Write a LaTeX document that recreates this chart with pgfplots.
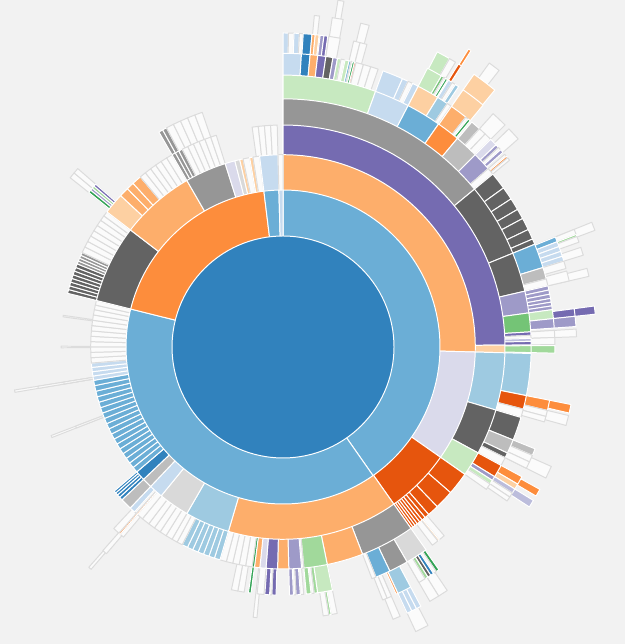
\documentclass[border=0pt]{standalone}
\usepackage{pgfplots}
\usepackage{pgfplotstable}
\pgfplotsset{compat=1.18}

% category20c palette
\definecolor{blueA}{HTML}{3182BD}
\definecolor{blueB}{HTML}{6BAED6}
\definecolor{blueC}{HTML}{9ECAE1}
\definecolor{blueD}{HTML}{C6DBEF}
\definecolor{orA}{HTML}{E6550D}
\definecolor{orB}{HTML}{FD8D3C}
\definecolor{orC}{HTML}{FDAE6B}
\definecolor{orD}{HTML}{FDD0A2}
\definecolor{grA}{HTML}{31A354}
\definecolor{grB}{HTML}{74C476}
\definecolor{grC}{HTML}{A1D99B}
\definecolor{grD}{HTML}{C7E9C0}
\definecolor{puA}{HTML}{756BB1}
\definecolor{puB}{HTML}{9E9AC8}
\definecolor{puC}{HTML}{BCBDDC}
\definecolor{puD}{HTML}{DADAEB}
\definecolor{gyA}{HTML}{636363}
\definecolor{gyB}{HTML}{969696}
\definecolor{gyC}{HTML}{BDBDBD}
\definecolor{gyD}{HTML}{D9D9D9}
\definecolor{wh}{HTML}{FBFBFB}
\definecolor{bg}{HTML}{F2F2F2}

% outline colour for each fill: white, except for the near-white leaves
\colorlet{blueA-e}{white}\colorlet{blueB-e}{white}
\colorlet{blueC-e}{white}\colorlet{blueD-e}{white}
\colorlet{orA-e}{white}\colorlet{orB-e}{white}
\colorlet{orC-e}{white}\colorlet{orD-e}{white}
\colorlet{grA-e}{white}\colorlet{grB-e}{white}
\colorlet{grC-e}{white}\colorlet{grD-e}{white}
\colorlet{puA-e}{white}\colorlet{puB-e}{white}
\colorlet{puC-e}{white}\colorlet{puD-e}{white}
\colorlet{gyA-e}{white}\colorlet{gyB-e}{white}
\colorlet{gyC-e}{white}\colorlet{gyD-e}{white}
\definecolor{wh-e}{HTML}{DCDCDC}

% Partition rings: start/end angle (degrees, clockwise from 12 o'clock) and colour
\pgfplotstableread{
from to col
0 145 blueB
145 284 blueB
284 353 orB
353 358.5 blueB
358.5 360 blueD
}\ringA

\pgfplotstableread{
from to col
0 91.5 orC
91.5 125 puD
125 144.8 orA
144.8 196.5 orC
196.5 210 blueC
210 219.3 gyD
219.3 223.5 blueD
223.5 226.5 gyC
226.5 229.5 blueA
229.5 231.2 blueB
231.2 232.9 blueB
232.9 234.6 blueB
234.6 236.3 blueB
236.3 238.0 blueB
238.0 239.7 blueB
239.7 241.4 blueB
241.4 243.1 blueB
243.1 244.8 blueB
244.8 246.5 blueB
246.5 248.2 blueB
248.2 249.9 blueB
249.9 251.6 blueB
251.6 253.3 blueB
253.3 255.0 blueB
255.0 256.7 blueB
256.7 258.4 blueB
258.4 260.0 blueB
260.0 261.3 blueD
261.3 262.6 blueD
262.6 263.9 blueD
263.9 265.2 blueD
265.2 266.8 wh
266.8 268.4 wh
268.4 270 wh
270 271.6 wh
271.6 273.2 wh
273.2 274.8 wh
274.8 276.4 wh
276.4 278 wh
278 279.6 wh
279.6 281.2 wh
281.2 282.6 wh
282.6 284 wh
284 307.5 gyA
307.5 330 orC
330 342.5 gyB
342.5 345.5 puD
345.5 347 gyD
347 348 orD
348 350 wh
350 351 orD
351 353 wh
353 358.5 blueD
358.5 360 wh
}\ringB

\pgfplotstableread{
from to col
0 89.5 puA
89.5 91.5 orD
91.5 106.5 blueC
106.5 118.5 gyA
118.5 125 grD
125 131 orA
131 136 orA
136 139 orA
139 140.2 orA
140.2 141.2 orA
141.2 142 orA
142 142.8 orA
142.8 143.5 orA
143.5 144.2 orA
144.2 144.8 orA
144.8 159 gyB
159 168.5 orC
168.5 174.6 grC
174.6 175.2 wh
175.2 178.5 puB
178.5 181.4 orC
181.4 184.4 puA
184.4 186 puD
186 187.4 orC
187.4 188 grA
188 189.7 wh
189.7 191.4 wh
191.4 193.1 wh
193.1 194.8 wh
194.8 196.5 wh
196.5 198 blueC
198 199.5 blueC
199.5 201 blueC
201 202.5 blueC
202.5 204 blueC
204 205.5 blueC
205.5 207 blueC
207 208.5 wh
208.5 210 wh
210 211.8 wh
211.8 213.6 wh
213.6 215.4 wh
215.4 217.2 wh
217.2 219.3 wh
219.3 221 wh
221 221.4 orB
221.4 222 wh
222 223.5 blueD
223.5 226.5 gyC
226.5 227.4 blueA
227.4 228.2 blueA
228.2 228.9 blueA
228.9 229.5 blueA
248.6 249.1 wh
260.4 260.9 wh
269.8 270.2 wh
277.8 278.2 wh
284 285 gyA
285 286 gyA
286 287 gyA
287 288 gyA
288 289 gyA
289 290 gyA
290 291 gyA
291 292 gyA
292 292.8 gyB
292.8 293.6 gyB
293.6 294.4 gyB
294.4 295.2 gyB
295.2 296.8 wh
296.8 298.4 wh
298.4 300 wh
300 301.6 wh
301.6 303.2 wh
303.2 304.8 wh
304.8 306.2 wh
306.2 307.5 wh
307.5 313 orD
313 315.5 orC
315.5 317.5 orC
317.5 320 orC
320 321.7 wh
321.7 323.4 wh
323.4 325 wh
325 326.7 wh
326.7 328.4 wh
328.4 330 wh
330 331 gyB
331 332 gyB
332 333 gyB
333 334.6 wh
334.6 336.2 wh
336.2 337.8 wh
337.8 339.4 wh
339.4 341 wh
341 342.5 wh
352 353.6 wh
353.6 355.2 wh
355.2 356.8 wh
356.8 358.5 wh
}\ringC

\pgfplotstableread{
from to col
0 50.5 gyB
50.5 67.8 gyA
67.8 77 gyA
77 82.1 puB
82.1 86.5 grB
86.5 87.3 puA
87.3 88 wh
88 88.7 puC
88.7 89.5 puA
89.7 91.3 grC
91.5 101.3 blueC
101.3 104.5 orA
104.5 106.5 wh
106.5 112 gyA
112 115.3 gyC
115.3 116.5 gyA
116.5 118.5 wh
118.5 121.5 orA
121.5 122.5 puB
122.5 123.5 grD
123.5 125 wh
139.5 141 wh
141 141.4 orD
141.4 143 wh
144.8 150 gyD
150 154.5 gyB
154.5 158 blueB
158 159 wh
168.5 172 grD
172 172.8 grC
172.8 173.5 wh
173.5 174.6 grC
175.2 176 wh
176 177 puB
177 177.6 wh
177.6 178.5 puB
181.6 182.6 puA
182.6 183.1 wh
183.1 184.2 puA
184.4 186 wh
187.4 188 grA
189 190.5 wh
190.5 192 wh
220 221 wh
221 221.4 orB
221.4 223 wh
248.6 249.1 wh
260.4 260.9 wh
308.5 309.2 grA
309.2 309.8 puB
309.8 310.4 grC
310.4 311 puA
330 331 gyB
331 332 gyB
332 333.8 wh
333.8 335.6 wh
335.6 337.4 wh
337.4 339.2 wh
339.2 341 wh
}\ringD

\pgfplotstableread{
from to col
0 19.9 grD
19.9 27.4 blueD
27.4 34.9 blueB
34.9 39.9 orB
39.9 45 gyC
45 49 puB
49 50.5 wh
50.5 54.2 gyA
54.2 57 gyA
57 59.6 gyA
59.6 61.8 gyA
61.8 64.4 gyA
64.4 66.6 gyA
66.6 67.8 gyA
67.8 73 blueB
73 75.5 gyC
75.5 77 wh
77 77.9 puB
77.9 78.8 puB
78.8 79.7 puB
79.7 80.5 puB
80.5 81.3 puB
81.3 82.1 puB
82.1 84 grD
84 86 puB
86.5 88 wh
88 89.5 wh
89.7 91.3 grC
101.3 103.5 orB
103.5 104.8 wh
104.8 106 wh
112 113.5 gyC
113.5 115 wh
115 116.5 wh
118.5 120.3 orB
120.3 121.5 orD
121.5 122.5 puC
122.5 123.5 wh
123.5 124.5 wh
145 145.7 grA
145.7 146.4 wh
146.4 147.1 blueA
147.1 147.8 gyA
147.8 148.5 grC
148.5 150 wh
152 155 blueC
155 155.4 orB
156.5 157.5 wh
157.5 158.5 wh
168.5 169.8 wh
169.8 170.3 grC
170.3 171.5 wh
185.5 186.3 wh
220.5 221.5 wh
260.4 260.9 wh
308.5 309.8 wh
309.8 311 wh
}\ringE

\pgfplotstableread{
from to col
0 3.6 blueD
3.6 5.3 blueA
5.3 6.8 orC
6.8 8.4 puA
8.4 9.8 gyA
9.8 10.7 puB
10.7 11.4 grD
11.4 12.2 wh
12.2 13 grD
13 13.4 blueB
13.4 13.7 wh
13.7 14.1 grA
14.1 14.4 orA
14.4 15.9 wh
15.9 17.4 wh
17.4 18.9 wh
19.9 24 blueD
24 25.2 blueD
25.2 26.2 wh
26.2 27.4 blueD
27.4 31.8 orD
31.8 34 blueC
34 34.9 wh
35 38.5 orC
38.5 39.1 wh
39.1 39.6 grA
40 42 gyC
42 43.5 wh
43.5 45 wh
45 46.5 puD
46.5 47.2 puB
47.2 47.8 wh
47.8 48.5 puB
49 49.5 wh
49.5 49.9 orB
49.9 50.5 wh
68 69 blueB
69 70 blueD
70 71 blueD
71 72 blueD
72 73 blueD
73 74.5 wh
75 77 wh
82.5 84 puA
84 86 puB
86.5 88 wh
101.3 103 orB
103.5 105.5 wh
114 116.5 wh
119 120.5 orB
121.5 123 puC
146 148 wh
148 150 wh
152 153 blueD
153 154 blueD
154 155 blueD
156.5 158 wh
220.8 221.4 wh
}\ringF

\pgfplotstableread{
from to col
0 1 blueD
1 2 wh
2 3 blueD
3 3.7 wh
3.7 5.3 blueA
5.3 5.9 orC
5.9 6.6 orD
6.8 7.5 puB
7.5 8.2 puA
8.4 10.5 wh
13 14.2 wh
14.2 15.5 wh
27.4 30.3 grD
30.3 30.8 grB
30.8 31.2 wh
31.2 31.6 grA
31.8 32.6 blueD
32.6 33.3 wh
33.3 34 blueC
35 39.6 orD
42 45 wh
46 48.5 wh
68 69 wh
69 69.4 grC
69.4 70.5 wh
71.5 73 wh
75.5 77 wh
82.5 84 puA
152.5 155 wh
}\ringG

\pgfplotstableread{
from to col
5.4 6.3 wh
8.5 10.4 wh
13.5 15 wh
27.6 30 grD
30 31.2 wh
31.8 32.4 orA
35 39.5 orD
68 69.5 wh
}\ringH

\pgfplotstableread{
from to col
9 10 wh
31.9 32.4 orB
36 38 wh
}\ringI

% one ring: every segment is drawn as a sector out to the ring's outer radius;
% the rings inside are drawn afterwards and cover the inner part
\newcommand\drawring[2]{%
  \pgfplotstablegetrowsof{#1}%
  \pgfmathtruncatemacro\nrows{\pgfplotsretval-1}%
  \pgfplotsforeachungrouped \i in {0,...,\nrows}{%
    \pgfplotstablegetelem{\i}{from}\of{#1}\let\sfrom\pgfplotsretval
    \pgfplotstablegetelem{\i}{to}\of{#1}\let\sto\pgfplotsretval
    \pgfplotstablegetelem{\i}{col}\of{#1}\let\scol\pgfplotsretval
    \pgfmathsetmacro\ta{90-\sto}%
    \pgfmathsetmacro\tb{90-\sfrom}%
    \pgfmathtruncatemacro\ns{max(2,ceil((\sto-\sfrom)/2)+1)}%
    \edef\cmd{\noexpand\addplot[fill=\scol, draw=\scol-e, line width=0.45pt,
      line join=round, domain=\ta:\tb, samples=\ns]
      ({#2*cos(x)},{#2*sin(x)}) -- (axis cs:0,0) -- cycle;}%
    \cmd
  }%
}

\begin{document}
\begin{tikzpicture}
\begin{axis}[
  scale only axis,
  width=10cm, height=10.304cm,
  xmin=-283, xmax=342, ymin=-297, ymax=347,
  hide axis,
  axis background/.style={fill=bg},
]
\drawring{\ringI}{351}
\drawring{\ringH}{333}
\drawring{\ringG}{314}
\drawring{\ringF}{293.7}
\drawring{\ringE}{271.9}
\drawring{\ringD}{248.2}
\drawring{\ringC}{222}
\drawring{\ringB}{192.3}
\drawring{\ringA}{157}
% root
\addplot[fill=blueA, draw=white, line width=0.45pt, domain=0:360, samples=121]
  ({111*cos(x)},{111*sin(x)}) -- cycle;
\end{axis}
\end{tikzpicture}
\end{document}
